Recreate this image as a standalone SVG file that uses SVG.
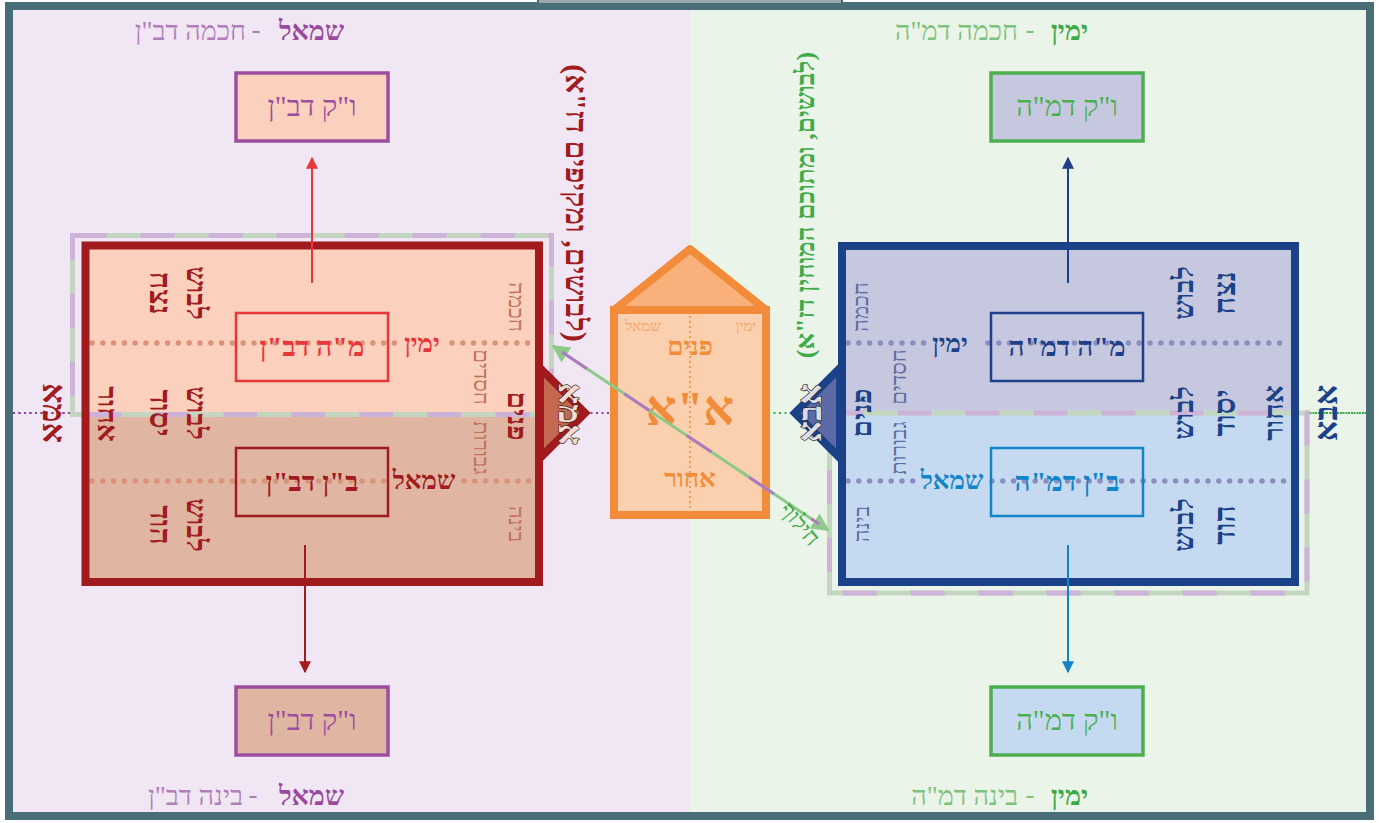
<svg xmlns="http://www.w3.org/2000/svg" width="1379" height="823" viewBox="0 0 1379 823">
<defs>
<style>
text{font-family:"Liberation Serif","DejaVu Serif","DejaVu Sans",serif;}
.c{text-anchor:middle;dominant-baseline:central;}
.b{font-weight:bold;}
.dotL{stroke:#d8937a;stroke-width:5.5;stroke-linecap:round;stroke-dasharray:0 10.8;fill:none;}
.dotR{stroke:#8a8fc0;stroke-width:5.5;stroke-linecap:round;stroke-dasharray:0 10.8;fill:none;}
.dashA{fill:none;stroke:#c3d6c0;stroke-width:5;}
.dashB{fill:none;stroke:#cdb2d9;stroke-width:5;stroke-dasharray:34 34;}
.inner{fill:none;stroke-width:2.5;}
.vk{stroke-width:3.5;}
.small{font-size:22px;}
</style>
<marker id="mRed" viewBox="0 0 10 10" refX="9" refY="5" markerWidth="6" markerHeight="6" orient="auto-start-reverse" markerUnits="strokeWidth"><path d="M0,0 L10,5 L0,10 z" fill="#e8363a"/></marker>
<marker id="mDRed" viewBox="0 0 10 10" refX="9" refY="5" markerWidth="6" markerHeight="6" orient="auto-start-reverse" markerUnits="strokeWidth"><path d="M0,0 L10,5 L0,10 z" fill="#a01a1e"/></marker>
<marker id="mBlue" viewBox="0 0 10 10" refX="9" refY="5" markerWidth="6" markerHeight="6" orient="auto-start-reverse" markerUnits="strokeWidth"><path d="M0,0 L10,5 L0,10 z" fill="#1e3f8a"/></marker>
<marker id="mLBlue" viewBox="0 0 10 10" refX="9" refY="5" markerWidth="6" markerHeight="6" orient="auto-start-reverse" markerUnits="strokeWidth"><path d="M0,0 L10,5 L0,10 z" fill="#1184c8"/></marker>
<marker id="mGreen" viewBox="0 0 10 10" refX="9" refY="5" markerWidth="6" markerHeight="6" orient="auto-start-reverse" markerUnits="strokeWidth"><path d="M0,0 L10,5 L0,10 z" fill="#8ec98a"/></marker>
</defs>

<!-- background -->
<rect x="0" y="0" width="1379" height="823" fill="#ffffff"/>
<rect x="9" y="6" width="681" height="810" fill="#f1e6f3"/>
<rect x="690" y="6" width="680" height="810" fill="#eaf4e8"/>
<rect x="9" y="6" width="1361" height="810" fill="none" stroke="#4a6e78" stroke-width="8"/>
<rect x="538" y="-4" width="304" height="8" fill="#9aa5ad" stroke="#4a6e78" stroke-width="2"/>

<!-- titles -->
<g id="titles" font-size="27">
<text x="344" y="40" text-anchor="end" fill="#9a4a9e" class="b">שמאל</text>
<text x="256" y="38" text-anchor="middle" fill="#b07fba">-</text>
<text x="246" y="40" text-anchor="end" fill="#b07fba">חכמה דב"ן</text>
<text x="344" y="805" text-anchor="end" fill="#9a4a9e" class="b">שמאל</text>
<text x="253" y="803" text-anchor="middle" fill="#b07fba">-</text>
<text x="243" y="805" text-anchor="end" fill="#b07fba">בינה דב"ן</text>
<text x="1088" y="40" text-anchor="end" fill="#3aaa46" class="b">ימין</text>
<text x="1030" y="38" text-anchor="middle" fill="#7fc27f">-</text>
<text x="1018" y="40" text-anchor="end" fill="#7fc27f">חכמה דמ"ה</text>
<text x="1088" y="805" text-anchor="end" fill="#3aaa46" class="b">ימין</text>
<text x="1030" y="803" text-anchor="middle" fill="#7fc27f">-</text>
<text x="1018" y="805" text-anchor="end" fill="#7fc27f">בינה דמ"ה</text>
</g>

<!-- center axis dotted -->
<g id="axis">
<line x1="13" y1="413" x2="612" y2="413" stroke="#8b3fa0" stroke-width="2" stroke-dasharray="2 3.5"/>
<line x1="768" y1="413" x2="1366" y2="413" stroke="#3dab4a" stroke-width="2" stroke-dasharray="2 3.5"/>
</g>

<!-- left big box -->
<g id="left-box">
<rect x="85.5" y="245.5" width="453.5" height="167.5" fill="#fbd0bd"/>
<rect x="85.5" y="413" width="453.5" height="169" fill="#e0b6a3"/>
<line x1="92" y1="343" x2="396" y2="343" class="dotL"/>
<line x1="452" y1="343" x2="536" y2="343" class="dotL"/>
<line x1="92" y1="481" x2="386" y2="481" class="dotL"/>
<line x1="464" y1="481" x2="536" y2="481" class="dotL"/>
<line x1="13" y1="413" x2="540" y2="413" stroke="#8b3fa0" stroke-width="2" stroke-dasharray="2 3.5"/>
<rect x="72.5" y="235.5" width="479" height="179" class="dashA"/>
<rect x="72.5" y="235.5" width="479" height="179" class="dashB"/>
<rect x="85.5" y="245.5" width="453.5" height="336.5" fill="none" stroke="#a01a1e" stroke-width="8"/>
<text transform="translate(516,307) rotate(90)" class="c small" fill="#c0705a">חכמה</text>
<text transform="translate(481,377) rotate(90)" class="c small" fill="#c0705a">חסדים</text>
<text transform="translate(481,448) rotate(90)" class="c small" fill="#c0705a">גבורות</text>
<text transform="translate(516,524) rotate(90)" class="c small" fill="#c0705a">בינה</text>
<text transform="translate(517,416) rotate(90)" class="c b" font-size="28" fill="#a01a1e">פנים</text>
<text transform="translate(107,414) rotate(90)" class="c b" font-size="28" fill="#a01a1e">אחור</text>
<text transform="translate(196,293) rotate(90)" class="c b" font-size="28" fill="#a01a1e">לבוש</text>
<text transform="translate(160,293) rotate(90)" class="c b" font-size="30" fill="#a01a1e">נצח</text>
<text transform="translate(196,413) rotate(90)" class="c b" font-size="28" fill="#a01a1e">לבוש</text>
<text transform="translate(160,413) rotate(90)" class="c b" font-size="30" fill="#a01a1e">יסוד</text>
<text transform="translate(196,525) rotate(90)" class="c b" font-size="28" fill="#a01a1e">לבוש</text>
<text transform="translate(160,525) rotate(90)" class="c b" font-size="30" fill="#a01a1e">הוד</text>
<text x="422" y="352" text-anchor="middle" font-size="26" class="b" fill="#e8363a">ימין</text>
<text x="424" y="489" text-anchor="middle" font-size="26" class="b" fill="#a01a1e">שמאל</text>
</g>
<text id="left-outer" transform="translate(54,413) rotate(90)" class="c b" font-size="32" fill="#a01a1e">אמא</text>

<g id="left-mh">
<rect x="236" y="313" width="152" height="68" class="inner" stroke="#e8363a"/>
<text x="312" y="356" text-anchor="middle" font-size="28" class="b" fill="#e8363a">מ"ה דב"ן</text>
</g>
<g id="left-bn">
<rect x="236" y="448" width="152" height="68" class="inner" stroke="#a01a1e"/>
<text x="312" y="491" text-anchor="middle" font-size="28" class="b" fill="#a01a1e">ב"ן דב"ן</text>
</g>

<g id="left-tri">
<polygon points="540,368 585,413 540,458" fill="#c4684f" stroke="#a01a1e" stroke-width="8" stroke-linejoin="miter"/>
<text transform="translate(570,414) rotate(90)" class="c b" font-size="33" fill="#f6d9cf" stroke="#222" stroke-width="1.3" paint-order="stroke">אמא</text>
</g>

<!-- right big box -->
<g id="right-box">
<rect x="842" y="246" width="453" height="167" fill="#c5c8de"/>
<rect x="842" y="413" width="453" height="169" fill="#c5daf0"/>
<line x1="848" y1="343" x2="932" y2="343" class="dotR"/>
<line x1="988" y1="343" x2="1290" y2="343" class="dotR"/>
<line x1="848" y1="481" x2="916" y2="481" class="dotR"/>
<line x1="992" y1="481" x2="1290" y2="481" class="dotR"/>
<line x1="842" y1="413" x2="1366" y2="413" stroke="#3dab4a" stroke-width="2" stroke-dasharray="2 3.5"/>
<rect x="829.5" y="413" width="477.5" height="180" class="dashA"/>
<rect x="829.5" y="413" width="477.5" height="180" class="dashB"/>
<rect x="842" y="246" width="453" height="336" fill="none" stroke="#1b4289" stroke-width="8"/>
<text transform="translate(860,307) rotate(-90)" class="c small" fill="#5d6ba3">חכמה</text>
<text transform="translate(898,377) rotate(-90)" class="c small" fill="#5d6ba3">חסדים</text>
<text transform="translate(898,448) rotate(-90)" class="c small" fill="#5d6ba3">גבורות</text>
<text transform="translate(861,524) rotate(-90)" class="c small" fill="#5d6ba3">בינה</text>
<text transform="translate(861,413) rotate(-90)" class="c b" font-size="28" fill="#1b4289">פנים</text>
<text transform="translate(1273,413) rotate(-90)" class="c b" font-size="28" fill="#1b4289">אחור</text>
<text transform="translate(1183,293) rotate(-90)" class="c b" font-size="28" fill="#1b4289">לבוש</text>
<text transform="translate(1224,293) rotate(-90)" class="c b" font-size="30" fill="#1b4289">נצח</text>
<text transform="translate(1183,413) rotate(-90)" class="c b" font-size="28" fill="#1b4289">לבוש</text>
<text transform="translate(1224,413) rotate(-90)" class="c b" font-size="30" fill="#1b4289">יסוד</text>
<text transform="translate(1183,525) rotate(-90)" class="c b" font-size="28" fill="#1b4289">לבוש</text>
<text transform="translate(1224,525) rotate(-90)" class="c b" font-size="30" fill="#1b4289">הוד</text>
<text x="950" y="352" text-anchor="middle" font-size="26" class="b" fill="#1b4289">ימין</text>
<text x="952" y="489" text-anchor="middle" font-size="26" class="b" fill="#1184c8">שמאל</text>
</g>
<text id="right-outer" transform="translate(1326,413) rotate(-90)" class="c b" font-size="32" fill="#1b4289">אבא</text>

<g id="right-mh">
<rect x="991" y="313" width="152" height="68" class="inner" stroke="#1e3f8a"/>
<text x="1067" y="356" text-anchor="middle" font-size="28" class="b" fill="#1e3f8a">מ"ה דמ"ה</text>
</g>
<g id="right-bn">
<rect x="991" y="448" width="152" height="68" class="inner" stroke="#1184c8"/>
<text x="1067" y="491" text-anchor="middle" font-size="28" class="b" fill="#1184c8">ב"ן דמ"ה</text>
</g>

<g id="right-tri">
<polygon points="840,368 795,413 840,458" fill="#5c6aa8" stroke="#1b4289" stroke-width="8" stroke-linejoin="miter"/>
<text transform="translate(810,413) rotate(-90)" class="c b" font-size="33" fill="#d9dbe8" stroke="#222" stroke-width="1.3" paint-order="stroke">אבא</text>
</g>

<!-- VK boxes -->
<g id="vk-left-top">
<rect x="236" y="73" width="152" height="68" fill="#fbd0bd" stroke="#9b4da0" class="vk"/>
<text x="312" y="116" text-anchor="middle" font-size="29" fill="#9b4da0">ו"ק דב"ן</text>
</g>
<g id="vk-left-bottom">
<rect x="236" y="687" width="152" height="68" fill="#e0b6a3" stroke="#9b4da0" class="vk"/>
<text x="312" y="730" text-anchor="middle" font-size="29" fill="#9b4da0">ו"ק דב"ן</text>
</g>
<g id="vk-right-top">
<rect x="991" y="73" width="152" height="68" fill="#c5c8de" stroke="#4caf50" class="vk"/>
<text x="1067" y="116" text-anchor="middle" font-size="29" fill="#4caf50">ו"ק דמ"ה</text>
</g>
<g id="vk-right-bottom">
<rect x="991" y="687" width="152" height="68" fill="#c5daf0" stroke="#4caf50" class="vk"/>
<text x="1067" y="730" text-anchor="middle" font-size="29" fill="#4caf50">ו"ק דמ"ה</text>
</g>

<!-- center house -->
<g id="arich-anpin">
<polygon points="614,310 690,249 766,310" fill="#f9b07a" stroke="#f28c3a" stroke-width="8" stroke-linejoin="round"/>
<rect x="614" y="310" width="152" height="205" fill="#fbd0ae" stroke="#f28c3a" stroke-width="8"/>
<line x1="690" y1="316" x2="690" y2="511" stroke="#f28c3a" stroke-width="1.5" stroke-dasharray="2 3"/>
<text x="643" y="331" text-anchor="middle" font-size="15" fill="#f4a468">שמאל</text>
<text x="746" y="331" text-anchor="middle" font-size="15" fill="#f4a468">ימין</text>
<text x="690" y="355" text-anchor="middle" font-size="26" class="b" fill="#f28c3a">פנים</text>
<text x="690" y="425" text-anchor="middle" font-size="48" class="b" fill="#f28c3a">א"א</text>
<text x="690" y="487" text-anchor="middle" font-size="26" class="b" fill="#f28c3a">אחור</text>
</g>

<!-- long vertical labels -->
<text id="left-note" transform="translate(576,203) rotate(90)" class="c b" font-size="30" fill="#a01a1e">(לבושים, ומקיפים דז"א)</text>
<text id="right-note" transform="translate(805,205) rotate(-90)" class="c b" font-size="26" fill="#3dab4a">(לבושים, ומתוכם המוחין דז"א)</text>

<!-- connectors -->
<g id="connectors">
<line x1="312" y1="283" x2="312" y2="158" stroke="#e8363a" stroke-width="2" marker-end="url(#mRed)"/>
<line x1="305" y1="545" x2="305" y2="672" stroke="#a01a1e" stroke-width="2" marker-end="url(#mDRed)"/>
<line x1="1068" y1="283" x2="1068" y2="158" stroke="#1e3f8a" stroke-width="2" marker-end="url(#mBlue)"/>
<line x1="1068" y1="545" x2="1068" y2="672" stroke="#1184c8" stroke-width="2" marker-end="url(#mLBlue)"/>
<line x1="553" y1="346" x2="828" y2="530" stroke="#8ec98a" stroke-width="3" marker-start="url(#mGreen)" marker-end="url(#mGreen)"/>
<line x1="562" y1="352" x2="819" y2="524" stroke="#b07ac0" stroke-width="3" stroke-dasharray="30 45"/>
</g>
<text id="exchange" transform="translate(800,524) rotate(50)" class="c" font-size="23" fill="#3dab4a">חילוף</text>
</svg>
